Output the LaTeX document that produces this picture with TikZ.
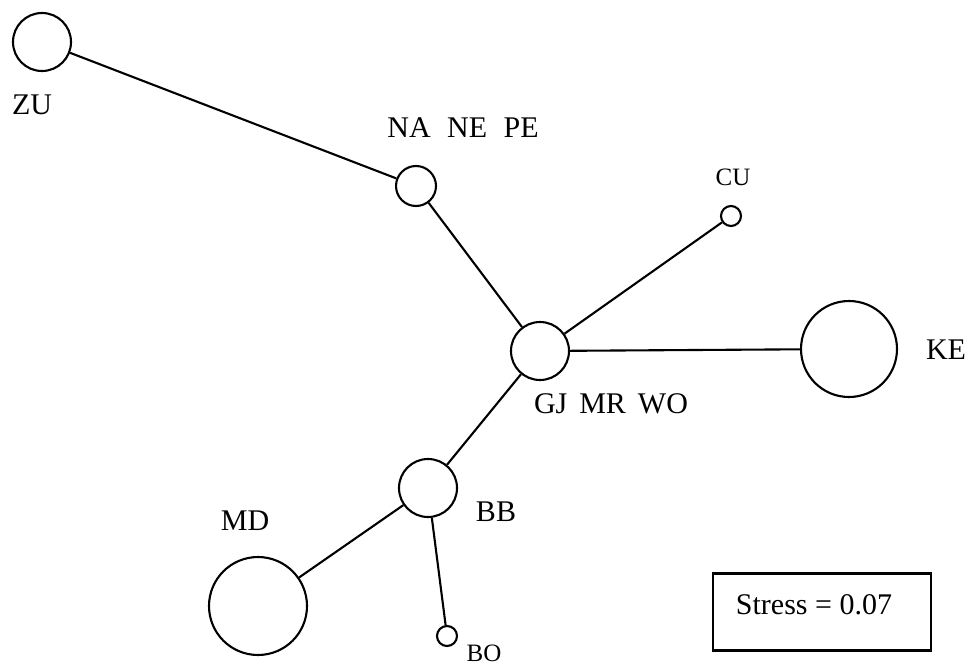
\documentclass[tikz,border=0pt]{standalone}
\usepackage{fontspec}
\setmainfont{Liberation Serif}
\begin{document}
\begin{tikzpicture}[x=1pt,y=-1pt,
  site/.style={circle,draw,line width=2.1pt,inner sep=0pt,minimum size=#1},
  tag/.style={inner sep=0pt,font=\fontsize{30}{30}\selectfont},
  smalltag/.style={inner sep=0pt,font=\fontsize{25}{25}\selectfont},
  link/.style={line width=2.1pt}]
\useasboundingbox (0,0) rectangle (968,666);

% clusters drawn as circles sized by group
\node[site=58pt] (ZU) at (42,42) {};
\node[site=40pt] (NNP) at (416,186) {};
\node[site=20pt] (CU) at (731,216) {};
\node[site=58pt] (GMW) at (540,351) {};
\node[site=96pt] (KE) at (849,349) {};
\node[site=58pt] (BB) at (428,488) {};
\node[site=98pt] (MD) at (258,606) {};
\node[site=20pt] (BO) at (447,636) {};

% labels
\node[tag] (tZU) at (32,105) {ZU};
\node[tag] (tNNP) at (463,128) {NA\hspace{0.55em}NE\hspace{0.55em}PE};
\node[smalltag] (tCU) at (733,177) {CU};
\node[tag] (tGMW) at (611,404) {GJ\hspace{0.4em}MR\hspace{0.4em}WO};
\node[tag] (tKE) at (946,350) {KE};
\node[tag] (tBB) at (496,512) {BB};
\node[tag] (tMD) at (245,521) {MD};
\node[smalltag] (tBO) at (484,653) {BO};

% tree connections
\draw[link] (ZU) -- (NNP);
\draw[link] (NNP) -- (GMW);
\draw[link] (GMW) -- (CU);
\draw[link] (GMW) -- (KE);
\draw[link] (GMW) -- (BB);
\draw[link] (BB) -- (MD);
\draw[link] (BB) -- (BO);

% stress annotation
\node[draw,line width=2.1pt,minimum width=218pt,minimum height=77pt,inner sep=0pt] (stressbox) at (822,612) {};
\node[tag] (stress) at (814,605) {Stress = 0.07};
\end{tikzpicture}
\end{document}
